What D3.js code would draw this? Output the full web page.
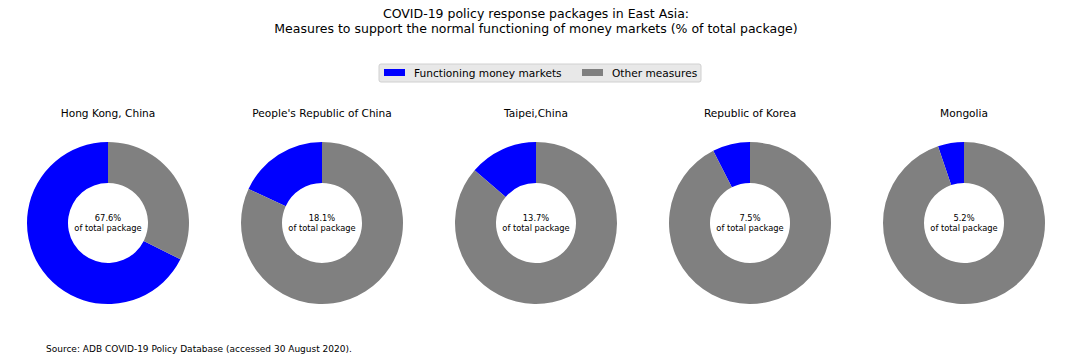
<!DOCTYPE html>
<html>
<head>
<meta charset="utf-8">
<script src="https://cdn.jsdelivr.net/npm/d3@7"></script>
<style>
  body { margin: 0; background: #fff; }
  text { font-family: "DejaVu Sans", sans-serif; fill: #000; }
</style>
</head>
<body>
<svg id="chart"></svg>
<script>
// data
const economies = ["Hong Kong, China", "People's Republic of China", "Taipei,China", "Republic of Korea", "Mongolia"];
const moneyMarketShare = [67.6, 18.1, 13.7, 7.5, 5.2];
const seriesNames = ["Functioning money markets", "Other measures"];
const seriesColors = ["#0000ff", "#808080"];

const width = 1072, height = 361;
const svg = d3.select("#chart").attr("width", width).attr("height", height);

svg.append("text").attr("x", 536).attr("y", 18).attr("text-anchor", "middle")
    .style("font-size", "12.5px").text("COVID-19 policy response packages in East Asia:");
svg.append("text").attr("x", 536).attr("y", 33).attr("text-anchor", "middle")
    .style("font-size", "12.5px").text("Measures to support the normal functioning of money markets (% of total package)");

// legend
const legend = svg.append("g").attr("transform", "translate(379, 64)");
legend.append("rect").attr("width", 322).attr("height", 18).attr("rx", 2)
    .attr("fill", "#e8e8e8").attr("stroke", "#d0d0d0");
const legendX = [5, 203];
seriesNames.forEach((name, i) => {
    legend.append("rect").attr("x", legendX[i]).attr("y", 5).attr("width", 21).attr("height", 7)
        .attr("fill", seriesColors[i]);
    legend.append("text").attr("x", legendX[i] + 30).attr("y", 13)
        .style("font-size", "10.6px").text(name);
});

// donuts
const xscale = d3.scalePoint().domain(economies).range([108, 964]);
const cy = 223, outerR = 81, innerR = 40;
const arc = d3.arc().innerRadius(innerR).outerRadius(outerR);

economies.forEach((name, i) => {
    const g = svg.append("g").attr("transform", `translate(${xscale(name)}, ${cy})`);
    const share = moneyMarketShare[i];
    // blue runs counter-clockwise from 12 o'clock, grey fills the rest
    const a = share / 100 * 2 * Math.PI;
    const slices = [
        {start: -a, end: 0, color: seriesColors[0]},
        {start: 0, end: 2 * Math.PI - a, color: seriesColors[1]}
    ];
    g.selectAll("path").data(slices).join("path")
        .attr("d", d => arc({startAngle: d.start, endAngle: d.end}))
        .attr("fill", d => d.color);

    g.append("text").attr("y", -106).attr("text-anchor", "middle")
        .style("font-size", "10.6px").text(name);
    g.append("text").attr("y", -2).attr("text-anchor", "middle")
        .style("font-size", "8.3px").text(share.toFixed(1) + "%");
    g.append("text").attr("y", 8).attr("text-anchor", "middle")
        .style("font-size", "8.3px").text("of total package");
});

svg.append("text").attr("x", 46).attr("y", 352)
    .style("font-size", "9px").text("Source: ADB COVID-19 Policy Database (accessed 30 August 2020).");
</script>
</body>
</html>
